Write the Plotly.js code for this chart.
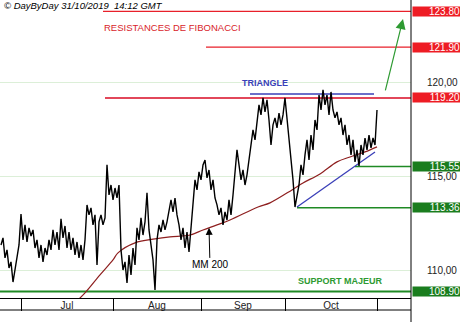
<!DOCTYPE html>
<html>
<head>
<meta charset="utf-8">
<script src="https://cdn.plot.ly/plotly-3.0.1.min.js"></script>
<style>html,body{margin:0;padding:0;background:#fff;}#chart{width:460px;height:322px;}</style>
</head>
<body>
<div id="chart"></div>
<script>
// ---- DATA ----
// Price sampled every half trading day (day index 0 = 24 Jun 2019)
const priceStep = 0.5;
const price = [
111.38,111.76,110.69,111.12,110.16,110.48,109.41,110.05,110.69,111.38,
113.03,111.65,112.45,111.54,112.29,111.86,112.18,111.22,111.65,110.69,
111.38,110.48,111.22,110.85,111.65,111.12,112.18,111.38,112.07,111.12,
112.77,111.76,112.39,111.22,112.07,111.12,111.76,110.85,111.54,110.69,
111.38,110.59,111.65,113.51,112.98,113.35,112.45,112.98,110.32,112.61,
112.98,112.45,112.82,115.64,114.04,114.57,113.78,114.41,113.88,114.57,
111.12,110.05,110.48,109.36,110.85,109.79,111.22,110.32,112.29,111.65,
112.82,111.91,112.61,114.15,112.18,111.38,110.59,108.99,111.65,112.45,
112.07,112.71,112.18,112.61,113.14,113.78,113.14,113.88,112.98,112.45,
111.65,112.29,111.22,112.07,111.01,112.45,113.51,114.84,114.31,115.27,
114.84,115.64,115.90,114.95,115.37,114.31,114.84,113.88,113.51,112.98,
113.35,112.45,113.14,112.71,113.78,112.98,114.04,115.11,116.44,115.64,
114.84,115.37,114.57,115.11,115.90,116.70,117.50,116.97,117.77,118.83,
118.30,119.20,118.46,119.10,118.03,116.70,117.77,118.14,117.61,118.40,
117.77,118.30,119.20,118.14,117.23,116.17,114.84,113.40,114.04,114.57,
115.64,115.11,116.17,116.97,115.90,117.23,116.44,118.03,117.50,119.36,
118.56,119.63,118.83,119.36,118.30,119.52,118.56,118.14,118.46,117.77,
118.14,117.23,117.77,116.70,117.23,116.17,116.97,115.80,116.44,115.59,
116.70,116.17,117.07,116.44,117.23,116.54,117.07,116.70,118.56
];
const priceDays = price.map((_, i) => i * priceStep);

// 200-period moving average
const mmDays = [19.25,21,24.75,28,29.25,33.5,38.5,42.25,47.25,50.5,54,57.25,64.25,67.25,72.75,75.5,79.75,84,87.25,91,94];
const mmVals = [108.46,108.83,109.79,110.59,110.96,111.49,111.70,111.81,111.91,112.18,112.45,112.71,113.40,113.62,114.31,114.68,115.16,115.80,116.06,116.33,116.60];

// Levels (Fibonacci resistances and supports)
const resistLevels = [123.80, 121.90, 119.20];
const resistStart  = [25.5, 51.25, 26];
const supportLevels = [115.55, 113.36, 108.90];
const supportStart  = [88.5, 74, -0.25];
const rightEdgeDay = 102.5;

// Triangle
const triTopDays = [62.25, 93.25];
const triTopVals = [119.41, 119.41];
const triLowDays = [74, 93.5];
const triLowVals = [113.40, 116.33];

// Axis labels
const monthStarts = [5, 28, 50, 71, 94];
const monthNames = ['Jul', 'Aug', 'Sep', 'Oct'];
const monthMids = monthNames.map((_, i) => (monthStarts[i] + monthStarts[i + 1]) / 2);
const yTicks = [110, 115, 120];
const yTickText = ['110,00', '115,00', '120,00'];

// ---- CHART ----
const RED = '#e8202a', GREEN = '#1f8a24', BLUE = '#3a3fb8';
const FONT = 'Liberation Sans, Arial, sans-serif';
const traces = [];
resistLevels.forEach((v, i) => traces.push({x: [resistStart[i], rightEdgeDay], y: [v, v], mode: 'lines',
  line: {color: i === 2 ? '#e2475a' : RED, width: i === 2 ? 2 : 1.3}, hoverinfo: 'skip', showlegend: false}));
supportLevels.forEach((v, i) => traces.push({x: [supportStart[i], rightEdgeDay], y: [v, v], mode: 'lines',
  line: {color: GREEN, width: i === 2 ? 2 : 1.5}, hoverinfo: 'skip', showlegend: false}));
traces.push({x: triTopDays, y: triTopVals, mode: 'lines', line: {color: BLUE, width: 1.5}, showlegend: false});
traces.push({x: triLowDays, y: triLowVals, mode: 'lines', line: {color: BLUE, width: 1.3}, showlegend: false});
traces.push({x: mmDays, y: mmVals, mode: 'lines', line: {color: '#8e1f1f', width: 1.2, shape: 'spline'}, showlegend: false});
traces.push({x: priceDays, y: price, mode: 'lines', line: {color: '#000', width: 1.4}, showlegend: false});
traces.push({x: [], y: [], xaxis: 'x2', yaxis: 'y', showlegend: false});

const X = px => px / 411, Y = py => 1 - py / 298;
const annotations = [];
resistLevels.concat(supportLevels).forEach((v, i) => annotations.push({
  xref: 'paper', yref: 'y', x: 1, y: v, xanchor: 'left', yanchor: 'middle', xshift: 1,
  text: v.toFixed(2), showarrow: false, bgcolor: i < 3 ? '#ee1c24' : '#1a7d1e',
  width: 47, height: 9, align: 'right', borderpad: 0,
  font: {family: FONT, size: 10, color: '#fff'}
}));
const txt = (t, px, py, color, size, extra) => Object.assign({xref: 'paper', yref: 'paper', x: X(px), y: Y(py),
  xanchor: 'center', yanchor: 'middle',
  text: t, showarrow: false, font: {family: FONT, size: size, color: color}}, extra || {});
annotations.push(txt('<i>© DayByDay 31/10/2019  14:12 GMT</i>', 2, 6, '#000', 9.5, {xanchor: 'left'}));
annotations.push(txt('RESISTANCES DE FIBONACCI', 172, 27, '#d8232a', 9.5));
annotations.push(txt('<b>TRIANGLE</b>', 265, 83, BLUE, 9));
annotations.push(txt('<b>SUPPORT MAJEUR</b>', 340, 281, '#2e9a32', 9));
annotations.push({xref: 'x', yref: 'y', axref: 'x', ayref: 'y', x: 52, y: 112.29, ax: 52.25, ay: 110.32,
  text: 'MM 200', showarrow: true, arrowhead: 2, arrowsize: 1.4, arrowwidth: 1, arrowcolor: '#000',
  font: {family: FONT, size: 10, color: '#000'}});
annotations.push({xref: 'x', yref: 'y', axref: 'x', ayref: 'y', x: 100.5, y: 123.40, ax: 96, ay: 119.52,
  text: '', showarrow: true, arrowhead: 2, arrowsize: 1.7, arrowwidth: 1.2, arrowcolor: '#2e9a32'});

const layout = {
  width: 460, height: 322, margin: {l: 0, r: 49, t: 0, b: 24},
  paper_bgcolor: '#fff', plot_bgcolor: '#fff', showlegend: false,
  xaxis: {range: [-0.25, rightEdgeDay], showgrid: false, zeroline: false, showline: true, linecolor: '#000', linewidth: 1,
    tickvals: monthMids, ticktext: monthNames, ticks: '', ticklabelstandoff: -2, tickfont: {family: FONT, size: 10, color: '#222'}, fixedrange: true},
  xaxis2: {range: [-0.25, rightEdgeDay], overlaying: 'x', anchor: 'y', side: 'bottom', showgrid: false, zeroline: false,
    tickvals: monthStarts, ticks: 'outside', ticklen: 12, tickcolor: '#000', tickwidth: 1, showticklabels: false, showline: false},
  yaxis: {range: [108.56, 124.41], side: 'right', tickvals: yTicks, ticktext: yTickText, showgrid: true, gridcolor: '#dcefd8',
    zeroline: false, showline: false, ticks: '', ticklabelstandoff: 15, tickfont: {family: FONT, size: 10, color: '#222'}},
  shapes: [
    {type: 'line', xref: 'paper', yref: 'paper', x0: 1, x1: 1, y0: -24 / 298, y1: 1, line: {color: '#000', width: 1}},
    {type: 'line', xref: 'paper', yref: 'paper', x0: 0, x1: 1, y0: -12 / 298, y1: -12 / 298, line: {color: '#000', width: 1}}
  ],
  annotations: annotations
};
Plotly.newPlot('chart', traces, layout, {staticPlot: true, displayModeBar: false});
</script>
</body>
</html>
